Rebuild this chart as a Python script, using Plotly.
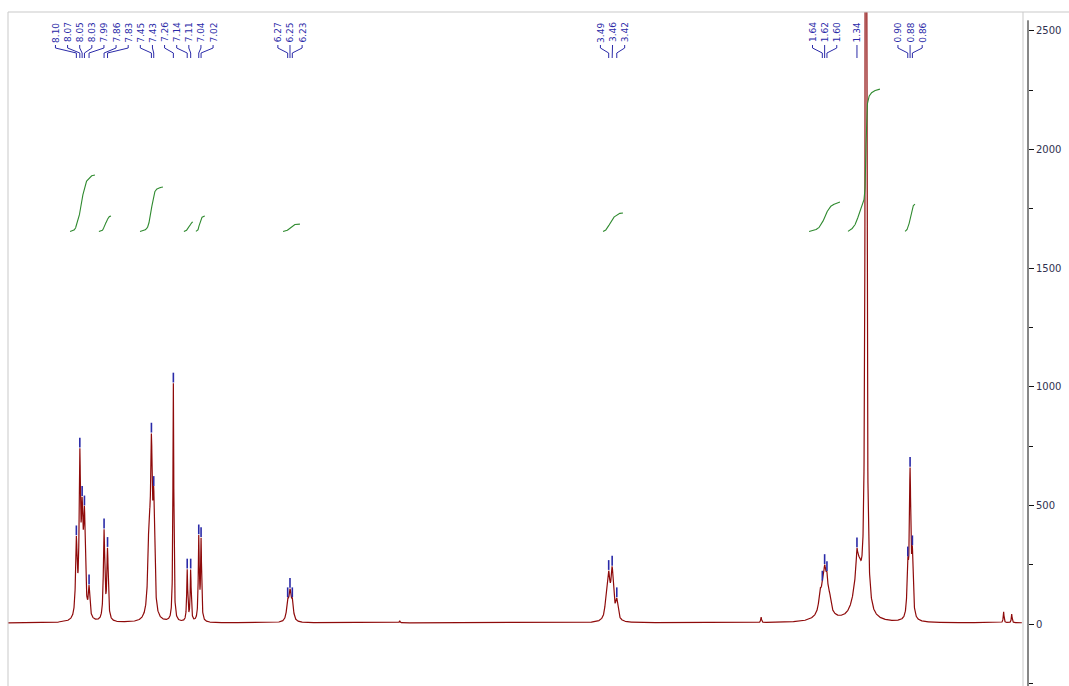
import numpy as np
import plotly.graph_objects as go

# Picked peaks: chemical shift (ppm), observed height, half width at half maximum (ppm)
peak_ppm = [8.10, 8.07, 8.05, 8.03, 7.99, 7.86, 7.83, 7.45, 7.43, 7.26, 7.14, 7.11, 7.04, 7.02,
            6.27, 6.25, 6.23, 3.49, 3.46, 3.42, 1.64, 1.62, 1.60, 1.34, 0.90, 0.88, 0.86]
peak_height = [371, 741, 537, 497, 164, 400, 322, 804, 579, 1015, 231, 231, 375, 364,
               110, 150, 110, 225, 243, 110, 180, 250, 220, 320, 282, 660, 329]
peak_hwhm = [0.008, 0.007, 0.009, 0.009, 0.008, 0.007, 0.007, 0.009, 0.009, 0.0045,
             0.005, 0.005, 0.005, 0.005,
             0.011, 0.011, 0.011, 0.013, 0.013, 0.012, 0.012, 0.012, 0.012, 0.006,
             0.0075, 0.0075, 0.0075]
peak_group = [0] * 14 + [1] * 3 + [2] * 3 + [3] * 3 + [4] + [5] * 3

# Unlabelled lines: shoulders, small impurities, TMS
extra_ppm = [7.47, 3.51, 1.66, 1.575, 5.30, 2.17, 0.07, 0.00]
extra_height = [470, 150, 150, 130, 14, 30, 52, 42]
extra_hwhm = [0.012, 0.012, 0.012, 0.012, 0.004, 0.004, 0.004, 0.004]

# Broad envelopes with fixed amplitude (the methylene line runs off scale)
broad_ppm = [1.262, 1.33, 1.62]
broad_amp = [7000, 230, 60]
broad_hwhm = [0.005, 0.04, 0.06]

baseline_level = 5

# Integral regions (ppm from -> to) and the levels of their traces
int_from = [8.155, 7.905, 7.549, 7.169, 7.065, 6.31, 3.539, 1.755, 1.418, 0.924]
int_to = [7.939, 7.80, 7.35, 7.091, 6.987, 6.164, 3.366, 1.487, 1.141, 0.837]
int_low = 1655
int_high = [1893, 1720, 1842, 1695, 1720, 1686, 1733, 1779, 2255, 1770]

X_RANGE = [8.692, -0.1412]
Y_RANGE = [-261, 2580]

SPEC_COLOR = "#8e0a0a"
INT_COLOR = "#2f8a2f"
PICK_COLOR = "#2a2aa8"


def lorentz(x, c, w):
    return 1.0 / (1.0 + ((x - c) / w) ** 2)


lines_ppm = np.array(peak_ppm + extra_ppm, float)
lines_obs = np.array(peak_height + extra_height, float)
lines_w = np.array(peak_hwhm + extra_hwhm, float)


def envelope(x):
    x = np.asarray(x, float)
    out = np.full(x.shape, float(baseline_level))
    for c, a, w in zip(broad_ppm, broad_amp, broad_hwhm):
        out = out + a * lorentz(x, c, w)
    return out


# amplitudes of the individual lines so that the summed trace hits the observed heights
A = lorentz(lines_ppm[:, None], lines_ppm[None, :], lines_w[None, :])
amps = np.linalg.solve(A, lines_obs - envelope(lines_ppm))


def spectrum(x):
    x = np.asarray(x, float)
    out = envelope(x)
    for c, a, w in zip(lines_ppm, amps, lines_w):
        out = out + a * lorentz(x, c, w)
    return out


ppm = np.arange(X_RANGE[0], X_RANGE[1] + 0.05, -0.0008)
ppm = ppm[ppm >= -0.088]
intensity = spectrum(ppm)

fig = go.Figure()

# spectrum
fig.add_trace(go.Scatter(x=ppm, y=intensity, mode="lines",
                         line=dict(color=SPEC_COLOR, width=1.2), hoverinfo="skip"))

# integral traces
for a, b, top in zip(int_from, int_to, int_high):
    sel = (ppm <= a) & (ppm >= b)
    seg = np.clip(intensity[sel] - baseline_level, 0, None)
    cum = np.cumsum(seg)
    cum = cum / cum[-1]
    fig.add_trace(go.Scatter(x=ppm[sel], y=int_low + cum * (top - int_low), mode="lines",
                             line=dict(color=INT_COLOR, width=1.1), hoverinfo="skip"))

# peak-pick markers just above each picked maximum
fig.add_trace(go.Scatter(x=peak_ppm, y=spectrum(peak_ppm) + 24, mode="markers",
                         marker=dict(symbol="line-ns", size=7,
                                     line=dict(width=1.6, color=PICK_COLOR)),
                         hoverinfo="skip"))

# peak labels spread out above their groups, with connector lines (y2 is in pixels)
label_gap = 0.105
lab_x = [0.0] * len(peak_ppm)
for g in sorted(set(peak_group)):
    idx = [i for i, gg in enumerate(peak_group) if gg == g]
    centre = float(np.mean([peak_ppm[i] for i in idx]))
    n = len(idx)
    for k, i in enumerate(idx):
        lab_x[i] = centre + ((n - 1) / 2 - k) * label_gap

cx, cy = [], []
for p, lx in zip(peak_ppm, lab_x):
    cx += [lx, lx, p, p, None]
    cy += [45, 48, 53, 58, None]
fig.add_trace(go.Scatter(x=cx, y=cy, yaxis="y2", mode="lines",
                         line=dict(color=PICK_COLOR, width=1), hoverinfo="skip"))

annotations = []
for p, lx in zip(peak_ppm, lab_x):
    annotations.append(dict(x=lx, y=44.5, xref="x", yref="y2", text=f"{p:.2f}",
                            textangle=-90, showarrow=False, xanchor="center", yanchor="bottom",
                            font=dict(family="DejaVu Sans", size=9, color=PICK_COLOR)))

frame = "#c9c9c9"
shapes = [
    dict(type="line", xref="paper", yref="paper", x0=0, x1=0, y0=0, y1=1,
         line=dict(color=frame, width=1)),
    dict(type="line", xref="paper", yref="paper", x0=0, x1=1.0402, y0=1, y1=1,
         line=dict(color=frame, width=1)),
    dict(type="line", xref="paper", yref="paper", x0=0.9951, x1=0.9951, y0=0, y1=1,
         line=dict(color=frame, width=1)),
    dict(type="line", xref="paper", yref="y", x0=1, x1=1, y0=Y_RANGE[0], y1=2545,
         line=dict(color="#111111", width=1)),
]

fig.update_layout(
    width=1069, height=686,
    margin=dict(l=8, r=41, t=12, b=0, pad=0),
    paper_bgcolor="white", plot_bgcolor="white",
    showlegend=False,
    xaxis=dict(range=X_RANGE, visible=False, showgrid=False, zeroline=False),
    yaxis=dict(range=Y_RANGE, side="right", showgrid=False, zeroline=False, showline=False,
               tickmode="linear", tick0=0, dtick=500, ticks="outside", ticklen=5,
               tickcolor="#111111", tickwidth=1,
               tickfont=dict(family="DejaVu Sans", size=10, color="#2f3150"),
               minor=dict(ticks="outside", ticklen=4, dtick=250, tick0=0,
                          tickcolor="#111111", showgrid=False)),
    yaxis2=dict(range=[686, 12], overlaying="y", visible=False, showgrid=False),
    annotations=annotations,
    shapes=shapes,
)

fig.write_html("out.html")
